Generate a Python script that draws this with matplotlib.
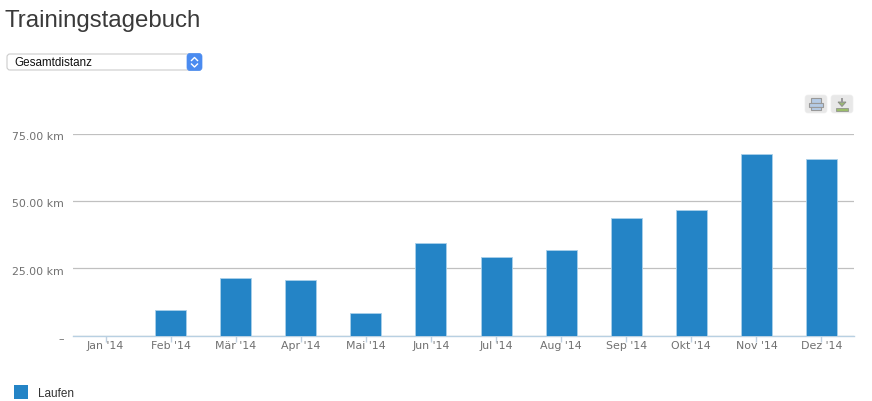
import matplotlib
matplotlib.use("Agg")
import matplotlib.pyplot as plt
from matplotlib.patches import FancyBboxPatch, Rectangle, Polygon
from matplotlib.transforms import ScaledTranslation

months = ["Jan '14", "Feb '14", "Mär '14", "Apr '14", "Mai '14", "Jun '14",
          "Jul '14", "Aug '14", "Sep '14", "Okt '14", "Nov '14", "Dez '14"]
distance_km = [0, 9.6, 21.5, 20.6, 8.2, 34.5, 29.3, 31.8, 43.8, 46.5, 67.3, 65.7]
y_ticks = [0, 25, 50, 75]
y_labels = ["–", "25.00 km", "50.00 km", "75.00 km"]
series_name = "Laufen"
title = "Trainingstagebuch"
dropdown = "Gesamtdistanz"
BLUE = "#2484c6"

W, H = 872, 402
fig = plt.figure(figsize=(W / 100, H / 100), dpi=100, facecolor="white")
ax = fig.add_axes([73 / W, 1 - 336.5 / H, 781 / W, 202 / H])
ax.bar(range(12), distance_km, width=31 / 65, color=BLUE, edgecolor="#a9d0ea",
       linewidth=0.6, zorder=3)
ax.set_xlim(-0.5, 11.5)
ax.set_ylim(0, 75)
ax.set_yticks(y_ticks, y_labels)
ax.set_xticks(range(12), months)
ax.grid(axis="y", color="#c0c0c0", linewidth=0.9, zorder=0)
ax.set_axisbelow(True)
for s in ("top", "left", "right"):
    ax.spines[s].set_visible(False)
ax.spines["bottom"].set_color("#b8d0e2")
ax.spines["bottom"].set_linewidth(1)
ax.tick_params(axis="x", length=4, color="#c0d0e0", width=1, direction="out",
               pad=-0.5, labelsize=7.9, labelcolor="#707070")
ax.tick_params(axis="y", length=0, pad=6.5, labelsize=7.9, labelcolor="#707070")
down = ScaledTranslation(0, -2.5 / 100, fig.dpi_scale_trans)
for lab in ax.get_yticklabels():
    lab.set_verticalalignment("center")
    lab.set_transform(lab.get_transform() + down)

# Page-level canvas in pixel coordinates
ov = fig.add_axes([0, 0, 1, 1], facecolor="none")
ov.set_xlim(0, W)
ov.set_ylim(H, 0)
ov.axis("off")

ov.text(4, 21, title, fontsize=17.3, family="Liberation Sans", color="#3a3a3a", va="center")

# Select control
ov.add_patch(FancyBboxPatch((7, 55), 194, 16, boxstyle="round,pad=0,rounding_size=3",
                            fc="white", ec="#cccccc", lw=0.8))
ov.add_patch(FancyBboxPatch((187, 54.5), 15, 17, boxstyle="round,pad=0,rounding_size=3",
                            fc="#4a8bf0", ec="#4a8bf0", lw=0.5))
ov.plot([191.5, 194.5, 197.5], [61.5, 58.5, 61.5], color="white", lw=1)
ov.plot([191.5, 194.5, 197.5], [65, 68, 65], color="white", lw=1)
ov.text(14, 63, dropdown, fontsize=8.4, family="Liberation Sans", color="#111111", va="center")

# Export buttons
for x0 in (805, 831):
    ov.add_patch(FancyBboxPatch((x0, 96), 22, 18, boxstyle="round,pad=0,rounding_size=3",
                                fc="#e8e8e8", ec="#eeeeee", lw=0.5))
ov.add_patch(Rectangle((811, 99), 10, 5, fc="#b5cbe6", ec="#999999", lw=0.8))
ov.add_patch(Rectangle((809, 104), 14, 4, fc="#b5cbe6", ec="#999999", lw=0.8))
ov.add_patch(Rectangle((811, 108), 10, 3, fc="#b5cbe6", ec="#999999", lw=0.8))
ov.add_patch(Polygon([(838, 103), (846, 103), (842, 107.5)], fc="#9ab874", ec="#888888", lw=0.6))
ov.add_patch(Rectangle((840.7, 98.5), 2.6, 5, fc="#999999", ec="none"))
ov.add_patch(Rectangle((836, 109), 12, 2.5, fc="#9bbd6a", ec="#888888", lw=0.5))

# Legend
ov.add_patch(Rectangle((14, 386), 14, 14, fc=BLUE, ec="none"))
ov.text(38, 394, series_name, fontsize=8.5, family="Liberation Sans", color="#333333", va="center")

fig.savefig("out.png", dpi=100)
